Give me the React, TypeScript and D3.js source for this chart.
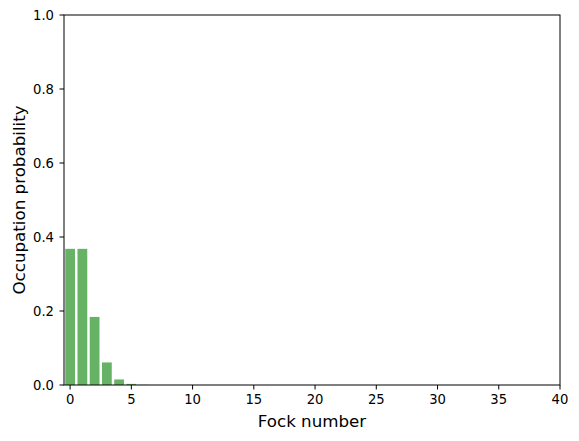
import * as d3 from "d3";

// Fock-state occupation probabilities (n = 0..40)
const fockNumbers = d3.range(0, 41);
const probabilities = [
  0.368, 0.368, 0.184, 0.061, 0.015, 0.003, 0.0005, 0.0001, 0, 0,
  0, 0, 0, 0, 0, 0, 0, 0, 0, 0,
  0, 0, 0, 0, 0, 0, 0, 0, 0, 0,
  0, 0, 0, 0, 0, 0, 0, 0, 0, 0, 0,
];
const xTicks = [0, 5, 10, 15, 20, 25, 30, 35, 40];
const yTicks = [0, 0.2, 0.4, 0.6, 0.8, 1.0];

export default function App() {
  const width = 579;
  const height = 441;
  const margin = { left: 64, right: 19, top: 15, bottom: 56 };
  const plotW = width - margin.left - margin.right;
  const plotH = height - margin.top - margin.bottom;

  const x = d3.scaleLinear().domain([-0.5, 40]).range([0, plotW]);
  const y = d3.scaleLinear().domain([0, 1]).range([plotH, 0]);
  const barW = x(0.8) - x(0);
  const font = "DejaVu Sans, sans-serif";

  return (
    <svg width={width} height={height} style={{ position: "absolute", left: 0, top: 0 }}>
      <rect width={width} height={height} fill="white" />
      <g transform={`translate(${margin.left},${margin.top})`}>
        <defs>
          <clipPath id="plot">
            <rect width={plotW} height={plotH} />
          </clipPath>
        </defs>
        <g clipPath="url(#plot)">
          {fockNumbers.map((n, i) => (
            <rect
              key={n}
              x={x(n - 0.4)}
              width={barW}
              y={y(probabilities[i])}
              height={plotH - y(probabilities[i])}
              fill="green"
              fillOpacity={0.6}
            />
          ))}
        </g>
        <rect width={plotW} height={plotH} fill="none" stroke="black" strokeWidth={1} />
        {xTicks.map((t) => (
          <g key={t} transform={`translate(${x(t)},${plotH})`}>
            <line y2={4.5} stroke="black" />
            <text y={19} textAnchor="middle" fontFamily={font} fontSize={13.2} fill="black">
              {t}
            </text>
          </g>
        ))}
        {yTicks.map((t) => (
          <g key={t} transform={`translate(0,${y(t)})`}>
            <line x2={-4.5} stroke="black" />
            <text x={-10} dy="0.35em" textAnchor="end" fontFamily={font} fontSize={13.2} fill="black">
              {t.toFixed(1)}
            </text>
          </g>
        ))}
        <text
          x={plotW / 2}
          y={plotH + 42}
          textAnchor="middle"
          fontFamily={font}
          fontSize={16.7}
          fill="black"
        >
          Fock number
        </text>
        <text
          transform={`translate(-39,${plotH / 2}) rotate(-90)`}
          textAnchor="middle"
          fontFamily={font}
          fontSize={16.7}
          fill="black"
        >
          Occupation probability
        </text>
      </g>
    </svg>
  );
}
